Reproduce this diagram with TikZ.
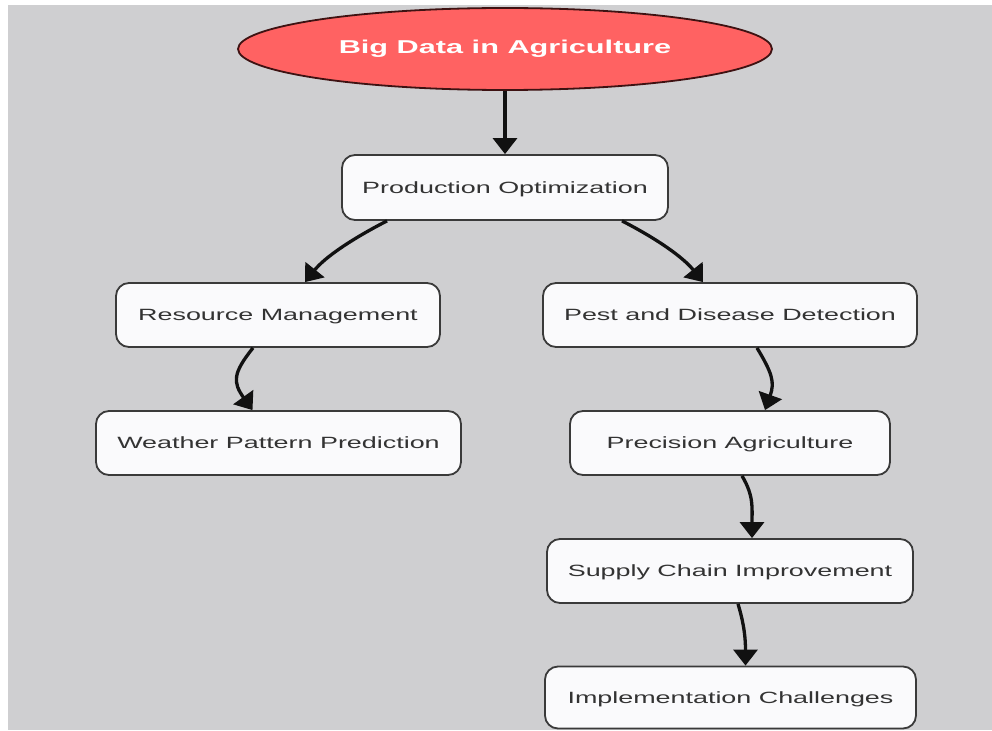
\documentclass[tikz,border=0pt]{standalone}
\usepackage{fontspec}
\setmainfont{Liberation Sans}[FakeStretch=1.65]
\usetikzlibrary{shapes.geometric,arrows.meta}
\definecolor{canvas}{HTML}{CFCFD1}
\definecolor{boxfill}{HTML}{FAFAFC}
\definecolor{boxline}{HTML}{3A3A3A}
\definecolor{boxtext}{HTML}{333333}
\definecolor{titlefill}{HTML}{FF6262}
\definecolor{titleline}{HTML}{3E1212}
\definecolor{linkcol}{HTML}{111111}
\begin{document}
\begin{tikzpicture}[x=1pt,y=-1pt,
  box/.style={draw=boxline,line width=1.8pt,fill=boxfill,rounded corners=13pt,
    minimum height=64pt,inner sep=0pt,text=boxtext,text depth=0pt,
    font=\fontsize{16.3}{20}\selectfont},
  title/.style={ellipse,draw=titleline,line width=1.8pt,fill=titlefill,
    minimum width=534pt,minimum height=82pt,inner sep=0pt,text=white,
    font=\bfseries\fontsize{18.6}{22}\selectfont},
  link/.style={draw=linkcol,line width=3.3pt,-{Triangle[length=16pt,width=24pt]}}]
% page and canvas
\fill[white] (0,0) rectangle (992,730);
\fill[canvas] (8,5) rectangle (992,730);
\useasboundingbox (0,0) rectangle (992,730);

% nodes
\node[title] (big) at (505,49) {Big Data in Agriculture};
\node[box,minimum width=326pt,minimum height=65pt] (prod) at (505,187.5) {Production Optimization};
\node[box,minimum width=324pt] (res) at (278,315) {Resource Management};
\node[box,minimum width=365pt] (wea) at (278.5,443) {Weather Pattern Prediction};
\node[box,minimum width=374pt] (pest) at (730,315) {Pest and Disease Detection};
\node[box,minimum width=320pt] (prec) at (730,443) {Precision Agriculture};
\node[box,minimum width=366pt] (sup) at (730,571) {Supply Chain Improvement};
\node[box,minimum width=371pt,minimum height=62pt] (impl) at (730.5,697.5) {Implementation Challenges};

% connectors
\draw[link] (big.south) -- (prod.north);
\draw[link] ([xshift=-118pt]prod.south) .. controls +(-35,18) and +(20,-25) .. ([xshift=27pt]res.north);
\draw[link] ([xshift=117pt]prod.south) .. controls +(35,18) and +(-20,-25) .. ([xshift=-27pt]pest.north);
\draw[link] ([xshift=-25pt]res.south) .. controls +(-20,25) and +(-20,-28) .. ([xshift=-26pt]wea.north);
\draw[link] ([xshift=27pt]pest.south) .. controls +(15,25) and +(10,-28) .. ([xshift=35pt]prec.north);
\draw[link] ([xshift=12pt]prec.south) .. controls +(12,20) and +(0,-30) .. ([xshift=22pt]sup.north);
\draw[link] ([xshift=8pt]sup.south) .. controls +(6,20) and +(0,-28) .. ([xshift=15pt]impl.north);
\end{tikzpicture}
\end{document}
